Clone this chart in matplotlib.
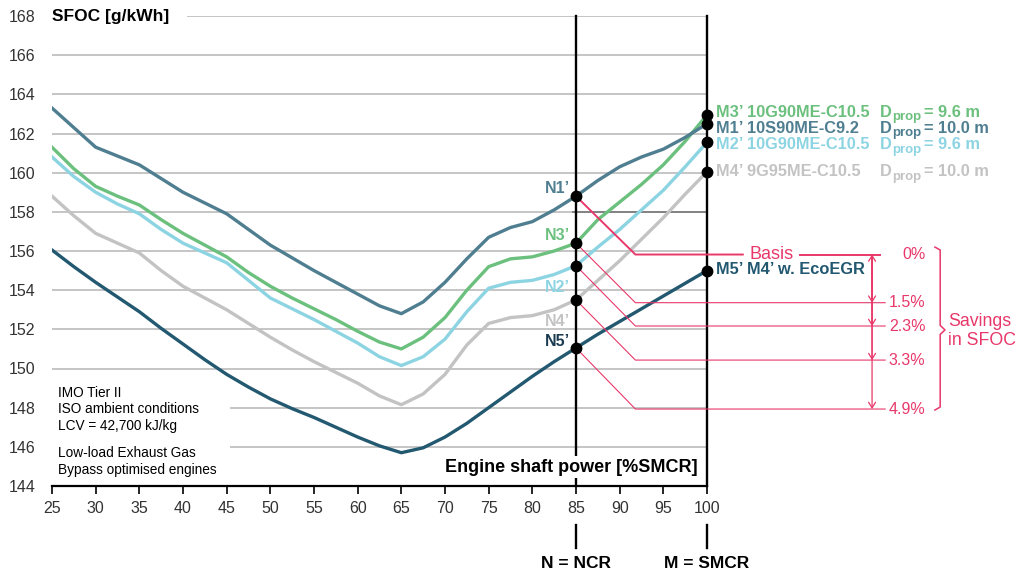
import matplotlib.pyplot as plt
import numpy as np

plt.rcParams['font.family'] = ['Liberation Sans', 'DejaVu Sans']

# engine load in %SMCR at which the curves were read
load = np.arange(25, 100.1, 2.5)

# SFOC readings (g/kWh)
sfoc_m1 = [163.3, 162.3, 161.3, 160.85, 160.4, 159.7, 159.0, 158.45, 157.9, 157.1, 156.3,
           155.65, 155.0, 154.4, 153.8, 153.2, 152.8, 153.4, 154.4, 155.6, 156.7, 157.2,
           157.5, 158.1, 158.8, 159.6, 160.3, 160.8, 161.2, 161.8, 162.5]
sfoc_m3 = [161.3, 160.2, 159.3, 158.8, 158.35, 157.6, 156.9, 156.3, 155.7, 154.9, 154.2,
           153.6, 153.05, 152.5, 151.9, 151.35, 151.0, 151.6, 152.6, 154.0, 155.2, 155.6,
           155.7, 156.0, 156.4, 157.6, 158.5, 159.4, 160.4, 161.6, 162.95]
sfoc_m2 = [160.8, 159.8, 159.0, 158.4, 157.9, 157.1, 156.4, 155.9, 155.4, 154.5, 153.6,
           153.05, 152.5, 151.9, 151.3, 150.6, 150.15, 150.6, 151.5, 152.9, 154.1, 154.4,
           154.5, 154.8, 155.25, 156.2, 157.1, 158.1, 159.1, 160.3, 161.55]
sfoc_m4 = [158.8, 157.8, 156.9, 156.4, 155.9, 155.0, 154.2, 153.6, 153.0, 152.3, 151.6,
           150.95, 150.35, 149.8, 149.25, 148.6, 148.15, 148.7, 149.7, 151.2, 152.3, 152.6,
           152.7, 153.0, 153.5, 154.5, 155.5, 156.6, 157.7, 158.9, 160.05]
sfoc_m5 = [156.05, 155.2, 154.4, 153.65, 152.9, 152.05, 151.25, 150.45, 149.7, 149.05, 148.45,
           147.95, 147.5, 147.0, 146.5, 146.05, 145.7, 145.95, 146.5, 147.2, 148.0, 148.8,
           149.6, 150.35, 151.05, 151.75, 152.4, 153.05, 153.7, 154.35, 155.0]

engine_names = ['M3’ 10G90ME-C10.5', 'M1’ 10S90ME-C9.2', 'M2’ 10G90ME-C10.5', 'M4’ 9G95ME-C10.5']
prop_diam = ['9.6 m', '10.0 m', '9.6 m', '10.0 m']
n_names = ['N1’', 'N3’', 'N2’', 'N4’', 'N5’']
savings = ['0%', '1.5%', '2.3%', '3.3%', '4.9%']
saving_levels = [155.82, 153.36, 152.17, 150.43, 147.93]

c_m1 = '#4f7e90'
c_m3 = '#6cc07e'
c_m2 = '#8dd4e3'
c_m4 = '#c3c3c3'
c_m5 = '#225870'
pink = '#e8386a'

fig = plt.figure(figsize=(10.21, 5.76), dpi=100)
ax = fig.add_axes([52 / 1021, 90 / 576, 655 / 1021, 470 / 576])
ax.set_xlim(25, 100)
ax.set_ylim(144, 168)
for s in ['top', 'right', 'left']:
    ax.spines[s].set_visible(False)
ax.spines['bottom'].set_linewidth(1.6)
ax.set_xticks(range(25, 101, 5))
ax.set_yticks(range(144, 169, 2))
ax.tick_params(axis='y', length=0, pad=12, labelsize=11.5, labelcolor='#333333')
ax.tick_params(axis='x', length=6, width=1.2, pad=5, labelsize=11.5, labelcolor='#333333')

# grid lines
for g in range(146, 169, 2):
    start = 25
    if g == 168:
        start = 40.5
    if g in (146, 148):
        start = 45.4
    ax.hlines(g, start, 100, color='#b5b5b5', lw=1.1, zorder=1)
ax.hlines(158, 84.5, 100, color='#777777', lw=1.2, zorder=1)

# curves
ax.plot(load, sfoc_m4, color=c_m4, lw=2.4, zorder=3)
ax.plot(load, sfoc_m2, color=c_m2, lw=2.4, zorder=3)
ax.plot(load, sfoc_m3, color=c_m3, lw=2.4, zorder=3)
ax.plot(load, sfoc_m1, color=c_m1, lw=2.4, zorder=3)
ax.plot(load, sfoc_m5, color=c_m5, lw=2.4, zorder=3)

# NCR and SMCR lines
for xv in (85, 100):
    ax.plot([xv, xv], [144, 168], color='black', lw=1.7, zorder=4, clip_on=False)
    ax.plot([xv, xv], [140.85, 142.0], color='black', lw=1.7, clip_on=False)
ax.text(85, 140.4, 'N = NCR', ha='center', va='top', fontsize=12.5, fontweight='bold')
ax.text(100, 140.4, 'M = SMCR', ha='center', va='top', fontsize=12.5, fontweight='bold')

# points at NCR and SMCR
i85 = list(load).index(85)
n_vals = [sfoc_m1[i85], sfoc_m3[i85], sfoc_m2[i85], sfoc_m4[i85], sfoc_m5[i85]]
m_vals = [sfoc_m3[-1], sfoc_m1[-1], sfoc_m2[-1], sfoc_m4[-1], sfoc_m5[-1]]
ax.plot([85] * 5, n_vals, 'o', color='black', ms=7.5, zorder=6, clip_on=False)
ax.plot([100] * 5, m_vals, 'o', color='black', ms=7.5, zorder=6, clip_on=False)

# N labels
n_cols = [c_m1, c_m3, c_m2, c_m4, '#1b3a50']
n_y = [159.2, 156.77, 154.16, 152.4, 151.4]
for name, yv, col in zip(n_names, n_y, n_cols):
    ax.text(84.3, yv, name, ha='right', va='center', fontsize=11.5, fontweight='bold', color=col)

# M labels, with D_prop built from a main text and a smaller subscript
m_cols = [c_m3, c_m1, c_m2, c_m4]
m_y = [163.05, 162.23, 161.4, 160.03]
for name, d, yv, col in zip(engine_names, prop_diam, m_y, m_cols):
    base = yv - 0.21
    ax.text(101.0, base, name, ha='left', va='baseline', fontsize=11.8, fontweight='bold',
            color=col, clip_on=False)
    ax.text(119.8, base, 'D', ha='left', va='baseline', fontsize=11.8, fontweight='bold',
            color=col, clip_on=False)
    ax.text(121.25, base - 0.17, 'prop', ha='left', va='baseline', fontsize=9.5,
            fontweight='bold', color=col, clip_on=False)
    ax.text(124.8, base, '= ' + d, ha='left', va='baseline', fontsize=11.8, fontweight='bold',
            color=col, clip_on=False)
ax.text(101.0, 155.03 - 0.21, 'M5’ M4’ w. EcoEGR', ha='left', va='baseline', fontsize=11.8,
        fontweight='bold', color=c_m5, clip_on=False)

# savings annotation
for k, (nv, lv) in enumerate(zip(n_vals, saving_levels)):
    lw = 1.4 if k == 0 else 0.8
    if k == 0:
        # basis line is broken around its label
        ax.plot([85, 91.8, 104.1], [nv, lv, lv], color=pink, lw=lw, zorder=5, clip_on=False)
        ax.plot([110.6, 119.8], [lv, lv], color=pink, lw=lw, zorder=5, clip_on=False)
    else:
        ax.plot([85, 91.8, 120.4], [nv, lv, lv], color=pink, lw=lw, zorder=5, clip_on=False)
    ax.text(125.0, lv, savings[k], ha='right', va='center', fontsize=11.5, color=pink)
ax.text(107.35, saving_levels[0], 'Basis', ha='center', va='center', fontsize=13, color=pink)
for k, lv in enumerate(saving_levels[1:]):
    style = '<->' if lv == saving_levels[-1] else '->'
    ax.annotate('', xy=(118.9, lv), xytext=(118.9, saving_levels[0]), annotation_clip=False,
                arrowprops=dict(arrowstyle=style + ',head_length=0.4,head_width=0.25',
                                color=pink, lw=0.9, shrinkA=0, shrinkB=0))
ax.plot([126.1, 126.7, 126.7, 127.25, 126.7, 126.7, 126.1],
        [156.2, 156.05, 152.2, 151.97, 151.74, 148.03, 147.88],
        color=pink, lw=1.1, clip_on=False)
ax.text(127.6, 151.9, 'Savings\nin SFOC', ha='left', va='center', fontsize=12.8, color=pink,
        linespacing=1.15)

# texts
ax.text(25, 168, 'SFOC [g/kWh]', ha='left', va='center', fontsize=12.5, fontweight='bold',
        bbox=dict(facecolor='white', edgecolor='none', pad=1))
ax.text(98.9, 144.97, 'Engine shaft power [%SMCR]', ha='right', va='center', fontsize=13,
        fontweight='bold', bbox=dict(facecolor='white', edgecolor='none', pad=1.5), zorder=5)
ax.text(25.7, 149.12, 'IMO Tier II\nISO ambient conditions\nLCV = 42,700 kJ/kg', ha='left',
        va='top', fontsize=9.8, linespacing=1.25)
ax.text(25.7, 146.05, 'Low-load Exhaust Gas\nBypass optimised engines', ha='left',
        va='top', fontsize=9.8, linespacing=1.25)

fig.savefig('out.png', dpi=100)
